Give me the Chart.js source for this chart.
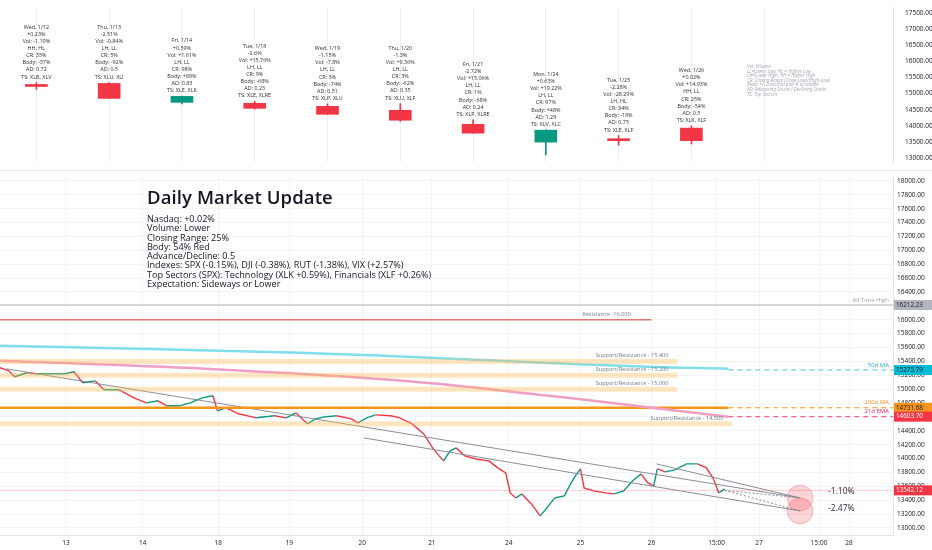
<!DOCTYPE html>
<html><head><meta charset="utf-8">
<script src="https://cdn.jsdelivr.net/npm/chart.js@4.4.3/dist/chart.umd.min.js"></script>
<style>
body{margin:0;background:#fff;width:932px;height:550px;overflow:hidden;position:relative;font-family:"Open Sans",sans-serif}
#top{position:absolute;left:0;top:0}
#bot{position:absolute;left:0;top:170px}
#sep{position:absolute;left:0;top:170px;width:932px;height:1px;background:#e0e3eb}
#upd{position:absolute;left:147px;top:185px;color:#131722}
#upd h1{margin:0 0 5px 0;font-size:18.5px;line-height:24px;font-weight:600;letter-spacing:0.1px}
#upd div{font-size:9.1px;line-height:9.3px}
#legend{position:absolute;left:747px;top:64px;font-size:4.6px;line-height:4.6px;color:#a3a6af;font-style:italic}
</style></head><body>
<canvas id="top" width="932" height="170"></canvas>
<canvas id="bot" width="932" height="380"></canvas>
<div id="sep"></div>
<div id="upd"><h1>Daily Market Update</h1>
<div>Nasdaq: +0.02%<br>Volume: Lower<br>Closing Range: 25%<br>Body: 54% Red<br>Advance/Decline: 0.5<br>Indexes: SPX (-0.15%), DJI (-0.38%), RUT (-1.38%), VIX (+2.57%)<br>Top Sectors (SPX): Technology (XLK +0.59%), Financials (XLF +0.26%)<br>Expectation: Sideways or Lower</div></div>
<div id="legend">Vol: Volume<br>LL=Lower Low, HL = Higher Low<br>LH=Lower High, HH = Higher High<br>CR: Closing Range (Close-Low)/(High-Low)<br>Body: +/- Direction and % of candle<br>AD: Advancing Stocks / Declining Stocks<br>TS: Top Sectors</div>
<script>
// ---- daily candles (top panel)
const dayOpen  = [15280, 15313, 14728, 14697, 14605, 14482, 14050, 13496, 13600, 13930];
const dayClose = [15220, 14851, 14913, 14543, 14358, 14174, 13773, 13866, 13540, 13542];
const dayHigh  = [15340, 15340, 14920, 14760, 14680, 14690, 14190, 13880, 13700, 14000];
const dayLow   = [15130, 14840, 14680, 14520, 14350, 14140, 13770, 13096, 13400, 13440];
const dayNotes = [
  ["Wed, 1/12","+0.23%","Vol: -1.19%","HH, HL","CR: 35%","Body: -37%","AD: 0.72","TS: XLB, XLV"],
  ["Thu, 1/13","-2.51%","Vol: -0.84%","LH, LL","CR: 5%","Body: -92%","AD: 0.5","TS: XLU, XLI"],
  ["Fri, 1/14","+0.59%","Vol: +1.61%","LH, LL","CR: 98%","Body: +89%","AD: 0.83","TS: XLE, XLK"],
  ["Tue, 1/18","-2.6%","Vol: +15.76%","LH, LL","CR: 9%","Body: -68%","AD: 0.23","TS: XLE, XLRE"],
  ["Wed, 1/19","-1.15%","Vol: -7.8%","LH, LL","CR: 3%","Body: -74%","AD: 0.51","TS: XLP, XLU"],
  ["Thu, 1/20","-1.3%","Vol: +9.36%","LH, LL","CR: 3%","Body: -62%","AD: 0.35","TS: XLU, XLF"],
  ["Fri, 1/21","-2.72%","Vol: +15.06%","LH, LL","CR: 1%","Body: -68%","AD: 0.24","TS: XLP, XLRE"],
  ["Mon, 1/24","+0.63%","Vol: +19.22%","LH, LL","CR: 97%","Body: +48%","AD: 1.29","TS: XLV, XLC"],
  ["Tue, 1/25","-2.28%","Vol: -28.29%","LH, HL","CR: 34%","Body: -19%","AD: 0.75","TS: XLE, XLF"],
  ["Wed, 1/26","+0.02%","Vol: +14.93%","HH, LL","CR: 25%","Body: -54%","AD: 0.5","TS: XLK, XLF"]
];
const topTicks = [13000,13500,14000,14500,15000,15500,16000,16500,17000,17500];

// ---- intraday path (bottom panel), x = trading-day index
const priceX = [0.10,0.22,0.30,0.47,0.59,0.75,0.99,1.11,1.23,1.40,1.52,1.73,1.93,2.10,2.26,2.38,2.55,2.70,2.86,3.01,
  3.07,3.19,3.36,3.60,3.85,4.01,4.14,4.30,4.41,4.53,4.70,4.90,4.99,5.11,5.23,5.44,5.56,5.73,5.89,6.01,6.10,6.16,6.25,6.33,6.45,6.62,6.78,6.90,7.01,
  7.07,7.15,7.23,7.36,7.48,7.56,7.68,7.81,7.88,7.96,8.03,8.08,8.21,8.37,8.49,8.62,8.74,8.86,8.95,9.03,9.08,9.19,9.32,9.48,9.63,9.75,9.84,9.92,10.0];
const priceY = [15308,15265,15178,15236,15221,15221,15221,15250,15092,15120,14991,14991,14875,14803,14832,14760,14760,14803,14875,14904,
  14688,14731,14645,14587,14616,14587,14659,14500,14572,14601,14616,14572,14515,14587,14630,14616,14587,14500,14356,14154,14039,13967,14111,14154,14039,13990,13967,13866,13794,
  13505,13433,13491,13347,13174,13275,13433,13462,13606,13750,13851,13577,13534,13505,13491,13534,13678,13779,13649,13606,13851,13808,13837,13923,13923,13866,13722,13505,13563];
const dayTickPos   = [1,2.05,3.08,4.05,5.05,6.0,7.05,8.03,9.0,9.89,10.47,11.29,11.7];
const dayTickLabel = ["13","14","18","19","20","21","24","25","26","15:00","27","15:00","28"];
const ma50X = [0.1,4.2,6.9,8.95,10.05], ma50Y = [15625,15524,15409,15322,15294];
const ema21X = [0.1,2.9,5.6,7.6,9.0,10.05], ema21Y = [15409,15294,15120,14904,14731,14601];
const athLevel = 16212.23, ma200Level = 14731.68, ma50Last = 15275.79, ema21Last = 14603.70, lastPrice = 13542.12;
const levels = [ // value, end x, label
  [16000, 9.0, "Resistance -16,000"],
  [15400, 9.35, "Support/Resistance - 15,400"],
  [15200, 9.35, "Support/Resistance - 15,200"],
  [15000, 9.35, "Support/Resistance - 15,000"],
  [14500, 10.1, "Support/Resistance - 14,500"]
];
const trendLines = [[0.18,15294,11.03,13433],[5.07,14298,11.03,13246],[9.07,13923,11.03,13433]];
const targets = [[11.03,13433,"-1.10%"],[11.03,13246,"-2.47%"]];

const RED = '#f23645', GREEN = '#089981', AX = '#131722';
const axisFont = {family:'Open Sans', size:6.5};
const fix2 = v => Number(v).toFixed(2);

// ---------- top chart
new Chart(document.getElementById('top'), {
  type: 'bar',
  data: { datasets: [
    { data: dayHigh.map((h,i)=>({x:i, y:[dayLow[i],h]})), barThickness:1,
      backgroundColor: dayOpen.map((o,i)=> dayClose[i]>=o?GREEN:RED), grouped:false },
    { data: dayOpen.map((o,i)=>({x:i, y:[o,dayClose[i]]})), barThickness:22, minBarLength:2,
      backgroundColor: dayOpen.map((o,i)=> dayClose[i]>=o?GREEN:RED), grouped:false }
  ]},
  options: {
    responsive:false, animation:false, layout:{padding:0, autoPadding:false},
    plugins:{legend:{display:false}, tooltip:{enabled:false}},
    scales:{
      x:{type:'linear', offset:false, min:-0.5, max:11.77, ticks:{display:false}, border:{display:false},
         afterFit: s => { s.height = 0; },
         afterBuildTicks: s => { s.ticks = dayOpen.map((_,i)=>({value:i+0.5})); },
         grid:{color:'#eceef2', drawTicks:false, lineWidth:1}},
      y:{position:'right', min:12877, max:17654, afterFit: s => { s.width = 39; },
         afterBuildTicks: s => { s.ticks = topTicks.map(v=>({value:v})); },
         ticks:{font:axisFont, color:AX, callback:fix2, padding:4},
         grid:{display:false}, border:{color:'#e0e3eb'}}
    }
  },
  plugins:[{ id:'notes', afterDatasetsDraw(c){
    const g=c.ctx, xs=c.scales.x, ys=c.scales.y;
    g.save(); g.font='5.4px "Open Sans"'; g.fillStyle='#2a2e39'; g.textAlign='center';
    dayNotes.forEach((lines,i)=>{
      const x=xs.getPixelForValue(i), yb=ys.getPixelForValue(dayHigh[i])-4;
      lines.forEach((t,j)=> g.fillText(t, x, yb-(lines.length-1-j)*7.1));
    });
    g.restore();
  }}]
});

// ---------- bottom chart
const seg = (x1,y1,x2,y2,color,w,dash)=>({data:[{x:x1,y:y1},{x:x2,y:y2}],borderColor:color,borderWidth:w,borderDash:dash||[],pointRadius:0});
const ds = [];
ds.push(seg(0,athLevel,12.3,athLevel,'#b2b5be',1));
levels.forEach(([v,e],i)=> ds.push(i==0 ? seg(0,v,e,v,'#e57373',1.5) : seg(0,v,e,v,'rgba(255,183,77,0.35)',5)));
ds.push({data:ma50X.map((x,i)=>({x,y:ma50Y[i]})), borderColor:'#80deea', borderWidth:2.5, pointRadius:0, tension:0.4});
ds.push(seg(10.05,ma50Last,12.3,ma50Last,'#4fc3d7',1.2,[5,4]));
ds.push({data:ema21X.map((x,i)=>({x,y:ema21Y[i]})), borderColor:'#f09ec3', borderWidth:2.5, pointRadius:0, tension:0.4});
ds.push(seg(10.05,ema21Last,12.3,ema21Last,'#f06292',1.2,[5,4]));
ds.push(seg(0,ma200Level,10.05,ma200Level,'#f7941d',2.5));
ds.push(seg(10.05,ma200Level,12.3,ma200Level,'#f7941d',1.2,[5,4]));
trendLines.forEach(t=> ds.push(seg(t[0],t[1],t[2],t[3],'#8a8d96',1)));
ds.push(seg(10.0,lastPrice,11.03,13433,'#8a8d96',1,[2,2]));
ds.push(seg(10.0,lastPrice,11.03,13246,'#8a8d96',1,[2,2]));
ds.push(seg(0,lastPrice,12.3,lastPrice,'rgba(242,54,69,0.25)',1));
ds.push({data:priceX.map((x,i)=>({x,y:priceY[i]})), borderWidth:1.4, pointRadius:0,
  segment:{borderColor: c => c.p1.parsed.y >= c.p0.parsed.y ? GREEN : RED}});
ds.push({type:'scatter', data:targets.map(t=>({x:t[0],y:t[1]})), pointRadius:13,
  backgroundColor:'rgba(242,54,69,0.22)', borderColor:'rgba(242,54,69,0.25)'});

new Chart(document.getElementById('bot'), {
  type:'line',
  data:{datasets:ds},
  options:{
    responsive:false, animation:false, layout:{padding:0, autoPadding:false},
    plugins:{legend:{display:false}, tooltip:{enabled:false}},
    scales:{
      x:{type:'linear', offset:false, min:0.1, max:12.3,
         afterFit: s => { s.height = 15; },
         afterBuildTicks: s => { s.ticks = dayTickPos.map(v=>({value:v})); },
         ticks:{font:axisFont, color:AX, autoSkip:false, maxRotation:0, padding:4,
                callback:(v,i)=>dayTickLabel[i]},
         grid:{color:'#f3f4f6', drawTicks:false}, border:{color:'#e0e3eb'}},
      y:{position:'right', min:12899, max:18043, afterFit: s => { s.width = 39; },
         afterBuildTicks: s => { const t=[]; for(let v=13000; v<=18000; v+=200) t.push({value:v}); s.ticks=t; },
         ticks:{font:axisFont, color:AX, callback:fix2, padding:4},
         grid:{color:'#f3f4f6', drawTicks:false}, border:{color:'#e0e3eb'}}
    }
  },
  plugins:[{ id:'labels', afterDraw(c){
    const g=c.ctx, xs=c.scales.x, ys=c.scales.y, ax=ys.left;
    g.save(); g.font='5.6px "Open Sans"'; g.textBaseline='bottom'; g.textAlign='center'; g.fillStyle='#787b86';
    levels.forEach(([v,e,t])=> g.fillText(t, xs.getPixelForValue(e)-45, ys.getPixelForValue(v)-3));
    g.textAlign='right'; g.font='6px "Open Sans"';
    [[athLevel,'All Time High','#a3a6af'],[ma50Last,'50d MA','#26a8c4'],[ma200Level,'200d MA','#f7941d'],[ema21Last,'21d EMA','#e91e63']]
      .forEach(([v,t,col])=>{ g.fillStyle=col; g.fillText(t, ax-4, ys.getPixelForValue(v)-2); });
    g.font='8.5px "Open Sans"'; g.textBaseline='middle'; g.textAlign='left'; g.fillStyle='#2a2e39';
    targets.forEach(([x,y,t],i)=> g.fillText(t, xs.getPixelForValue(x)+28, ys.getPixelForValue(y)+(i?-2:-6)));
    g.font='6.3px "Open Sans"'; g.textAlign='left';
    [[athLevel,'#b2b5be','#131722'],[ma50Last,'#00bcd4','#131722'],[ma200Level,'#f7941d','#131722'],[ema21Last,'#f23645','#fff'],[lastPrice,'#f23645','#fff']]
      .forEach(([v,bg,fg])=>{ const y=ys.getPixelForValue(v); g.fillStyle=bg; g.fillRect(ax+1,y-5,38,10); g.fillStyle=fg; g.fillText(fix2(v), ax+3, y); });
    g.restore();
  }}]
});
</script>
</body></html>
